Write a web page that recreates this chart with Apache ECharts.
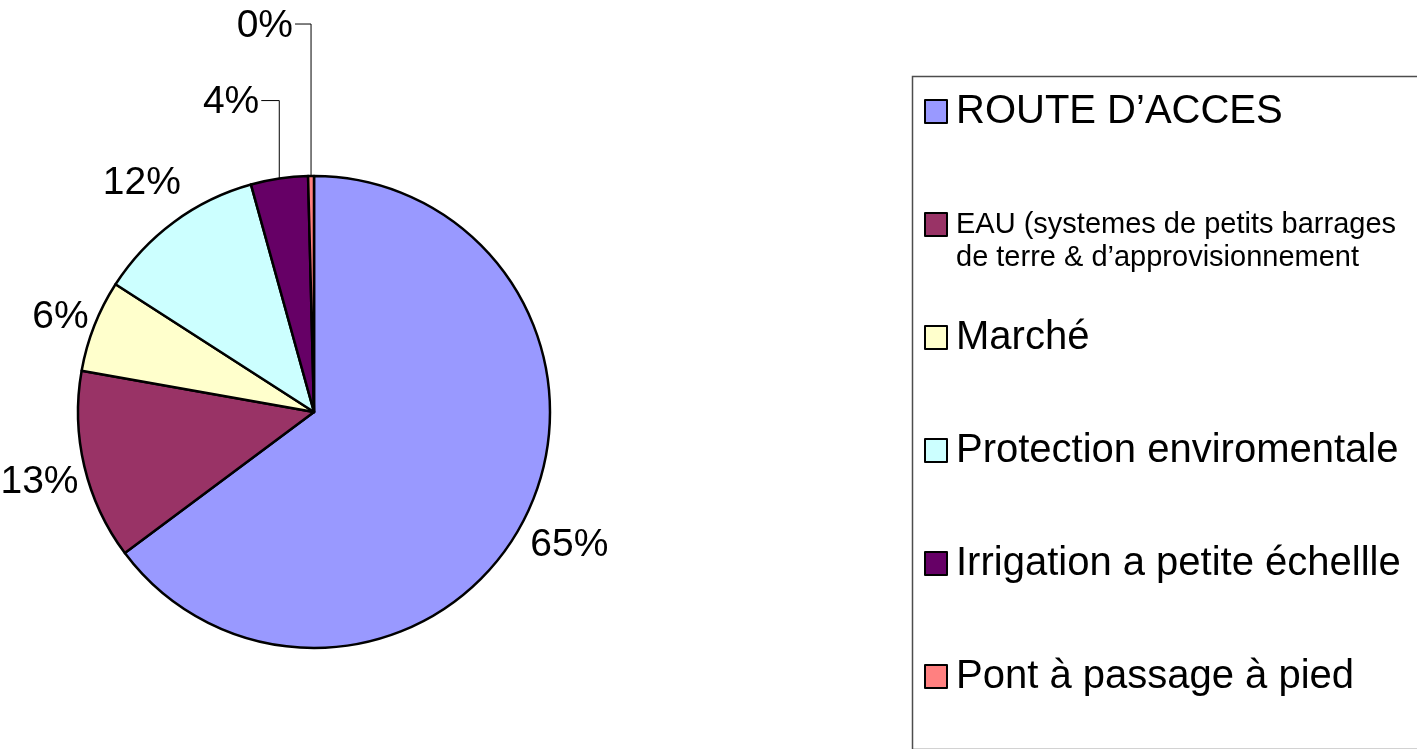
<!DOCTYPE html>
<html>
<head>
<meta charset="utf-8">
<title>Répartition des projets</title>
<script src="https://cdn.jsdelivr.net/npm/echarts@6/dist/echarts.min.js"></script>
<style>
  html, body { margin: 0; padding: 0; background: #fff; }
  #chart { width: 1417px; height: 749px; }
</style>
</head>
<body>
<div id="chart"></div>
<script>
// categories (legend order) and their share
var categories = [
  'ROUTE D\u2019ACCES',
  'EAU (systemes de petits barrages\nde terre & d\u2019approvisionnement',
  'March\u00e9',
  'Protection enviromentale',
  'Irrigation a petite \u00e9chellle',
  'Pont \u00e0 passage \u00e0 pied'
]
var values = [64.8, 13.0, 6.3, 11.6, 3.9, 0.4]
var colors = ['#9999ff', '#993366', '#ffffcc', '#ccffff', '#660066', '#ff8080']

// small slices get an elbow leader line: [rise, horizontal run]
var leaders = { 4: [78, 18], 5: [152, 16] }

var FONT = '"Liberation Sans", Arial, sans-serif'

var myChart = echarts.init(document.getElementById('chart'))

var pieData = categories.map(function (name, i) {
  var item = { name: name, value: values[i], itemStyle: { color: colors[i] } }
  if (leaders[i]) {
    item.labelLine = { show: true, length: leaders[i][0], length2: leaders[i][1] }
  }
  return item
})

var legendData = categories.map(function (name, i) {
  if (i === 1) {
    // two smaller lines for the long one
    return { name: name, textStyle: { fontSize: 29, lineHeight: 33 } }
  }
  return { name: name }
})

var option = {
  backgroundColor: '#fff',
  animation: false,
  graphic: [
    {
      type: 'rect',
      left: 910,
      top: 74,
      shape: { width: 520, height: 673 },
      style: { fill: 'none', stroke: '#4d4d4d', lineWidth: 1.5 },
      z: -1
    }
  ],
  legend: {
    orient: 'vertical',
    left: 924,
    top: 62,
    padding: 0,
    itemGap: 14,
    itemWidth: 22,
    itemHeight: 23,
    icon: 'rect',
    selectedMode: false,
    itemStyle: { borderColor: '#000', borderWidth: 2 },
    textStyle: {
      fontFamily: FONT,
      fontSize: 40,
      lineHeight: 99,
      color: '#000',
      padding: [0, 0, 0, 4]
    },
    // blank first line keeps the marker level with the first line of the long entry
    formatter: function (name) {
      return name.indexOf('\n') > -1 ? ' \n' + name : name
    },
    data: legendData
  },
  series: [
    {
      type: 'pie',
      center: [314, 412],
      radius: 236,
      startAngle: 90,
      clockwise: true,
      avoidLabelOverlap: false,
      itemStyle: { borderColor: '#000', borderWidth: 2.5 },
      emphasis: { disabled: true },
      label: {
        show: true,
        position: 'outside',
        fontFamily: FONT,
        fontSize: 39,
        color: '#000',
        formatter: function (p) {
          return Math.round(p.percent) + '%'
        }
      },
      labelLine: {
        show: false,
        length: 6,
        length2: 0,
        lineStyle: { color: '#000', width: 1 }
      },
      labelLayout: function (p) {
        var pts = p.labelLinePoints
        if (!pts) return {}
        var e = pts[0], q = pts[1]
        var dx = q[0] - e[0], dy = q[1] - e[1]
        var d = Math.sqrt(dx * dx + dy * dy) || 1
        if (leaders[p.dataIndex]) {
          var run = Math.abs(pts[2][0] - pts[1][0])
          var y = e[1] - d
          var x2 = e[0] - run
          return {
            x: x2 - 2,
            y: y + 2,
            align: 'right',
            verticalAlign: 'middle',
            labelLinePoints: [e, [e[0], y], [x2, y]]
          }
        }
        // put the label box just outside the rim, along the slice's mid-angle
        // (more clearance above/below than at the sides)
        var ux = dx / d, uy = dy / d
        var hw = p.labelRect.width / 2, hh = p.labelRect.height
        var ext = Math.min(
          Math.abs(ux) > 1e-6 ? hw / Math.abs(ux) : 1e9,
          Math.abs(uy) > 1e-6 ? hh / Math.abs(uy) : 1e9
        )
        var g = d + ext
        return { x: e[0] + ux * g, y: e[1] + uy * g + 5, align: 'center', verticalAlign: 'middle' }
      },
      data: pieData
    }
  ]
}

myChart.setOption(option)
</script>
</body>
</html>
